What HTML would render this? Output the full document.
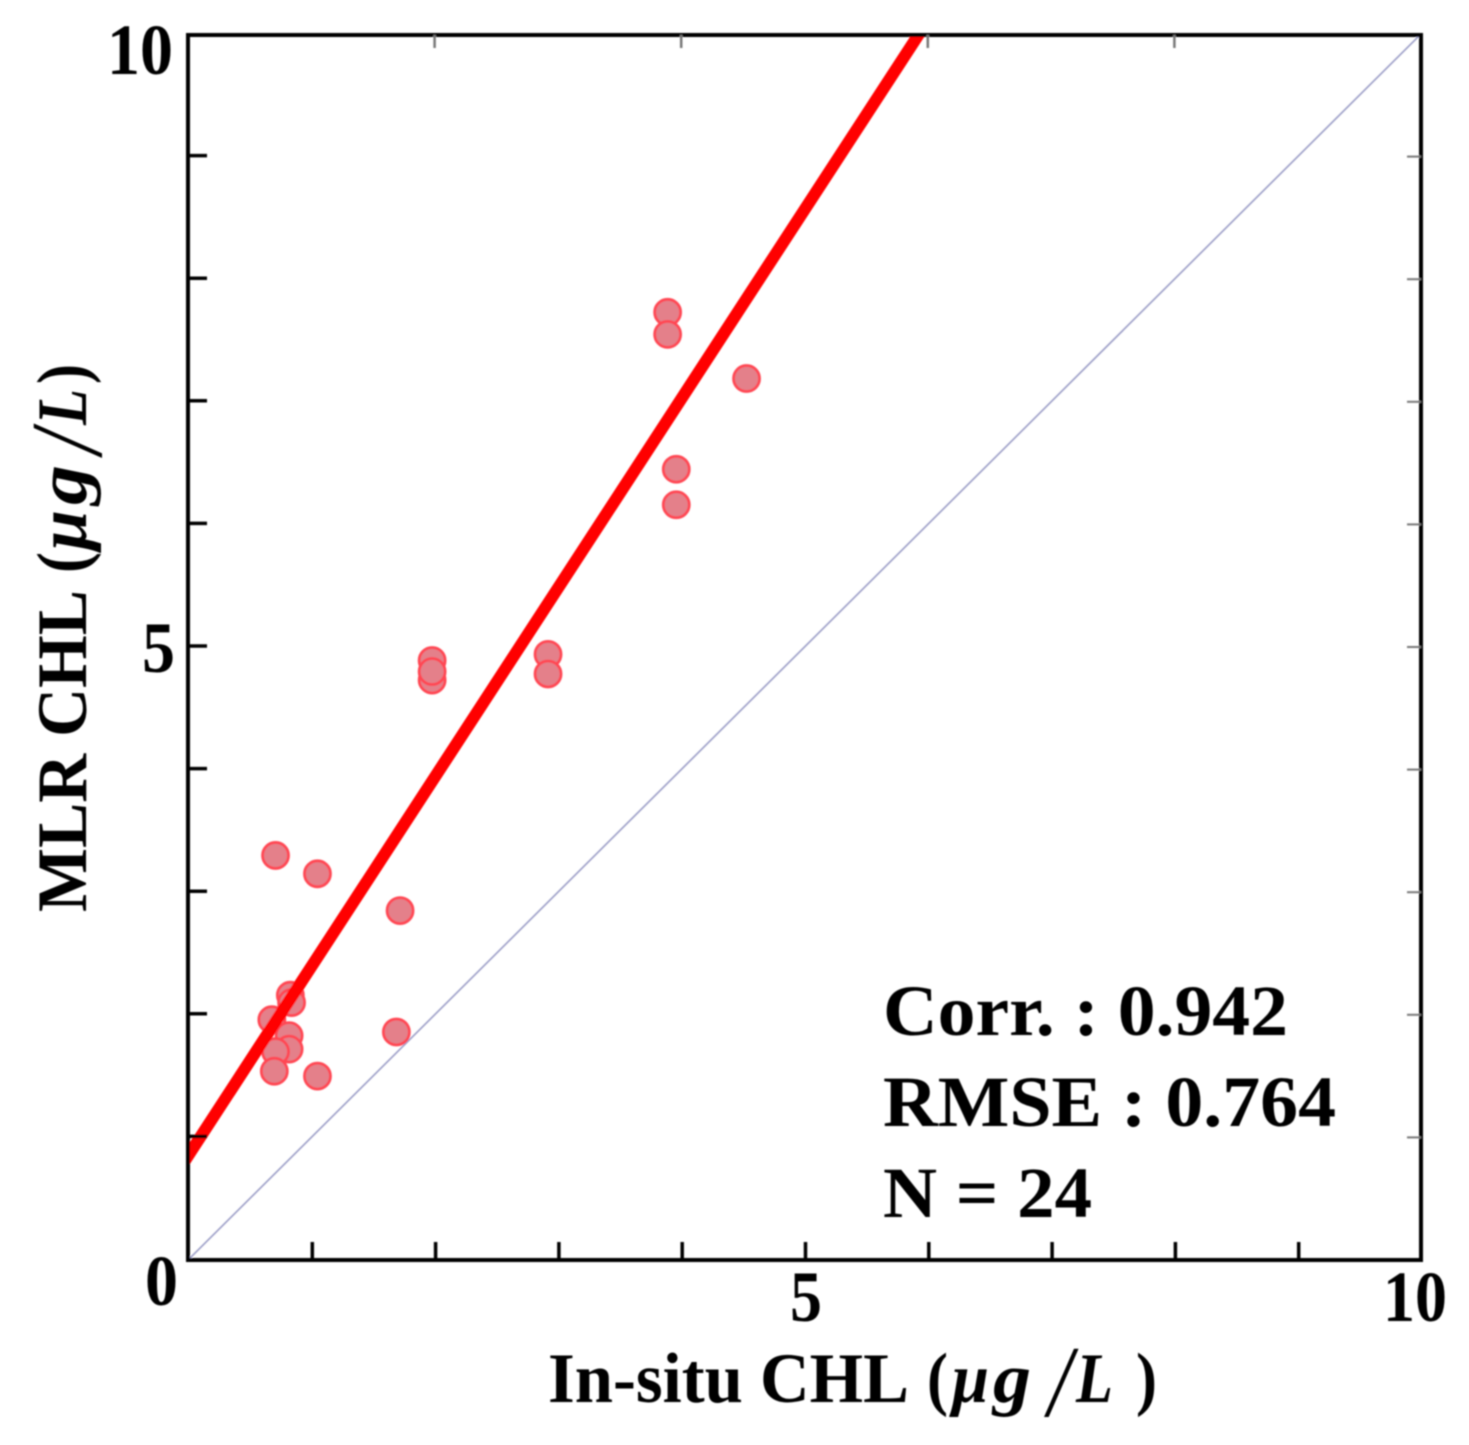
<!DOCTYPE html>
<html lang="en">
<head>
<meta charset="utf-8">
<title>MLR CHL vs In-situ CHL</title>
<style>
html,body{margin:0;padding:0;background:#fff;}
svg{display:block;}
text{font-family:"Liberation Serif",serif;font-weight:bold;fill:#000;}
.it{font-style:italic;}
.slash{font-style:italic;font-weight:normal;font-size:102px;}
</style>
</head>
<body>
<svg id="chart" xmlns="http://www.w3.org/2000/svg" width="1469" height="1445" viewBox="0 0 1469 1445">
  <defs>
    <clipPath id="plot-clip"><rect x="188" y="35" width="1233" height="1225"></rect></clipPath>
    <filter id="soft" x="-5%" y="-5%" width="110%" height="110%"><feGaussianBlur stdDeviation="0.9"></feGaussianBlur></filter>
  </defs>
  <g id="root" filter="url(#soft)">
    <g id="marks" clip-path="url(#plot-clip)"></g>
    <g id="axes"></g>
    <g id="tick-labels"></g>
    <g font-size="71">
      <text x="548" y="1402" textLength="361" lengthAdjust="spacingAndGlyphs">In-situ CHL</text>
      <text x="927" y="1402" textLength="21" lengthAdjust="spacingAndGlyphs">(</text>
      <text class="it" x="952" y="1402" textLength="37" lengthAdjust="spacingAndGlyphs">μ</text>
      <text class="it" x="993" y="1402" textLength="38" lengthAdjust="spacingAndGlyphs">g</text>
      <text class="slash" x="1048" y="1416" textLength="24" lengthAdjust="spacingAndGlyphs">/</text>
      <text class="it" x="1076" y="1402" textLength="37" lengthAdjust="spacingAndGlyphs">L</text>
      <text x="1136" y="1402" textLength="21" lengthAdjust="spacingAndGlyphs">)</text>
    </g>
    <g font-size="71" transform="translate(86,912) rotate(-90)">
      <text x="0" y="0" textLength="322" lengthAdjust="spacingAndGlyphs">MLR CHL</text>
      <text x="339" y="0" textLength="21" lengthAdjust="spacingAndGlyphs">(</text>
      <text class="it" x="362" y="0" textLength="40" lengthAdjust="spacingAndGlyphs">μ</text>
      <text class="it" x="407" y="0" textLength="40" lengthAdjust="spacingAndGlyphs">g</text>
      <text class="slash" x="458" y="15" textLength="24" lengthAdjust="spacingAndGlyphs">/</text>
      <text class="it" x="487" y="0" textLength="36" lengthAdjust="spacingAndGlyphs">L</text>
      <text x="528" y="0" textLength="20" lengthAdjust="spacingAndGlyphs">)</text>
    </g>
    <text x="883" y="1035" font-size="72" textLength="405" lengthAdjust="spacingAndGlyphs">Corr. : 0.942</text>
    <text x="883" y="1126" font-size="72" textLength="453" lengthAdjust="spacingAndGlyphs">RMSE : 0.764</text>
    <text x="883" y="1217" font-size="72" textLength="209" lengthAdjust="spacingAndGlyphs">N = 24</text>
  </g>
</svg>
<script>
const insituValues = [0.71,1.05,1.72,0.83,0.84,0.68,0.82,0.82,0.71,0.70,1.05,1.69,1.98,1.98,1.98,2.92,2.92,3.89,3.89,4.53,3.96,3.96];
const mlrValues = [3.30,3.15,2.85,2.16,2.10,1.96,1.83,1.72,1.70,1.54,1.50,1.86,4.89,4.73,4.80,4.94,4.78,7.73,7.55,7.19,6.45,6.16];
const fitX = [-0.2, 6.0];
const fitY = [0.54, 10.11];
const identityLine = [0, 10];
const minorTicks = [1,2,3,4,5,6,7,8,9];
const topTicks = [2,4,6,8];
const xTickLabels = ["5","10"];
const xTickLabelValues = [5,10];
const yTickLabels = ["0","5","10"];
const yTickLabelValues = [0,5,10];

const NS = "http://www.w3.org/2000/svg";
const sx = v => 188 + v * 123.3;
const sy = v => 1260 - v * 122.6;
const marks = document.getElementById("marks");
const axes = document.getElementById("axes");
const tickLabels = document.getElementById("tick-labels");

function makeLine(parent, x1, y1, x2, y2, color, width) {
  const l = document.createElementNS(NS, "line");
  l.setAttribute("x1", x1);
  l.setAttribute("y1", y1);
  l.setAttribute("x2", x2);
  l.setAttribute("y2", y2);
  l.setAttribute("stroke", color);
  l.setAttribute("stroke-width", width);
  parent.appendChild(l);
  return l;
}

const identity = makeLine(marks, sx(identityLine[0]), sy(identityLine[0]), sx(identityLine[1]), sy(identityLine[1]), "#9a9cc6", 1.6);



insituValues.forEach((x, i) => {
  const c = document.createElementNS(NS, "circle");
  c.setAttribute("cx", sx(x));
  c.setAttribute("cy", sy(mlrValues[i]));
  c.setAttribute("r", 13);
  c.setAttribute("fill", "#e4808a");
  c.setAttribute("stroke", "#ff4652");
  c.setAttribute("stroke-width", 2.8);
  
  
  marks.appendChild(c);
});

const fit = makeLine(marks, sx(fitX[0]), sy(fitY[0]), sx(fitX[1]), sy(fitY[1]), "#ff0000", 12);



const frame = document.createElementNS(NS, "rect");
frame.setAttribute("x", 188);
frame.setAttribute("y", 35);
frame.setAttribute("width", 1233);
frame.setAttribute("height", 1225);
frame.setAttribute("fill", "none");
frame.setAttribute("stroke", "#000");
frame.setAttribute("stroke-width", 4);


axes.appendChild(frame);

minorTicks.forEach(v => {
  const bottom = makeLine(axes, sx(v) + 1, 1260, sx(v) + 1, 1242, "#000", 3.5);
  
  
  const left = makeLine(axes, 188, sy(v) - 1, 207, sy(v) - 1, "#000", 3.5);
  
  
  const right = makeLine(axes, 1421, sy(v), 1407, sy(v), "#777", 2);
  
  
});

topTicks.forEach(v => {
  const top = makeLine(axes, sx(v), 35, sx(v), 48, "#777", 2.5);
  
  
});

xTickLabels.forEach((label, i) => {
  const v = xTickLabelValues[i];
  const t = document.createElementNS(NS, "text");
  t.textContent = label;
  t.setAttribute("x", sx(v) + (label.length > 1 ? -6 : 1.5));
  t.setAttribute("y", 1321);
  t.setAttribute("font-size", 72);
  t.setAttribute("text-anchor", "middle");
  t.setAttribute("textLength", label.length * 32);
  t.setAttribute("lengthAdjust", "spacingAndGlyphs");
  
  
  tickLabels.appendChild(t);
});

yTickLabels.forEach((label, i) => {
  const v = yTickLabelValues[i];
  const t = document.createElementNS(NS, "text");
  t.textContent = label;
  t.setAttribute("x", v === 0 ? 178 : (label.length > 1 ? 173 : 175));
  t.setAttribute("y", v === 0 ? 1305 : sy(v) + 25 + (label.length > 1 ? 15 : 0));
  t.setAttribute("font-size", 72);
  t.setAttribute("text-anchor", "end");
  t.setAttribute("textLength", label.length * 33);
  t.setAttribute("lengthAdjust", "spacingAndGlyphs");
  
  
  tickLabels.appendChild(t);
});
</script>
</body>
</html>
